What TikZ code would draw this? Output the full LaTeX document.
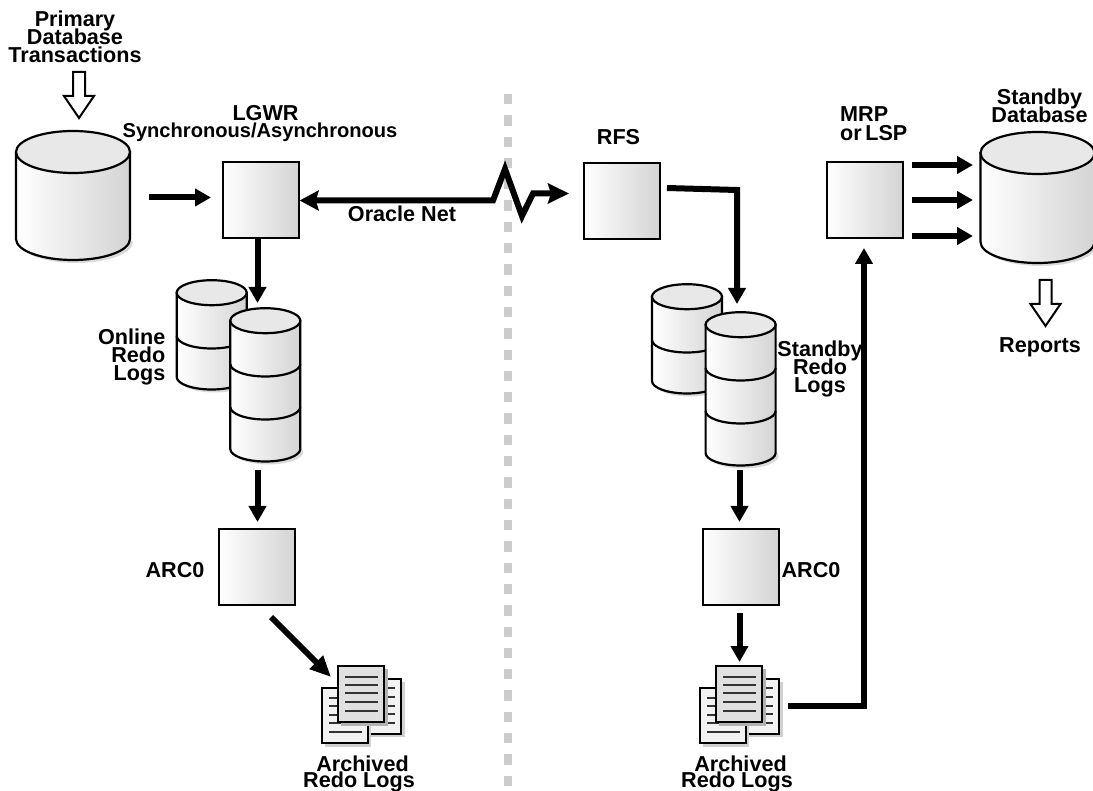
\documentclass[tikz,border=0pt]{standalone}
\usepackage{fontspec}
\setmainfont{Liberation Sans}
\usetikzlibrary{arrows.meta,calc}

\tikzset{
    procBox/.style={draw, line width=2, minimum size=76, inner sep=0, left color=white, right color=black!17},
    heavyArrow/.style={-{Triangle[length=16,width=17]}, line width=6},
    bigHeadArrow/.style={-{Triangle[length=21,width=18]}, line width=6},
    netArrow/.style={{Stealth[length=19,width=20,inset=3]}-{Stealth[length=21,width=20,inset=3]}, line width=6, miter limit=20},
    hollowArrow/.style={draw, line width=2, fill=white, miter limit=10},
    caption/.style={align=center, inner sep=0, font=\lineskiplimit-30pt\relax\fontsize{21.6}{18}\selectfont\bfseries},
    diskFace/.style={draw, line width=2.2},
    sheet/.style={draw, line width=2},
    sheetLine/.style={line width=1.2, black!80}
}

\begin{document}
\begin{tikzpicture}[x=1pt, y=-1pt]
    \useasboundingbox (0, 0) rectangle (1093, 791);

    % cylinder: x, top y, bottom y, x radius, y radius, inner levels
    \def\drawCylinder#1#2#3#4#5#6{
        \fill[black!14] (#1-#4+3, #2+3) -- (#1-#4+3, #3+3) arc[start angle=180, end angle=0, x radius=#4, y radius=#5] -- cycle;
        \path[diskFace, left color=white, right color=black!17] (#1-#4, #2) -- (#1-#4, #3) arc[start angle=180, end angle=0, x radius=#4, y radius=#5] -- (#1+#4, #2) -- cycle;
        \foreach \level in {#6}
        {
            \draw[line width=2.2] (#1-#4, \level) arc[start angle=180, end angle=0, x radius=#4, y radius=#5];
        }
        \path[diskFace, fill=black!9] (#1, #2) ellipse [x radius=#4, y radius=#5];
    }

    % outlined arrow pointing down: x, top y
    \def\drawHollow#1#2{
        \path[hollowArrow] (#1-6, #2) -- (#1+6, #2) -- (#1+6, #2+24) -- (#1+15, #2+24) -- (#1, #2+46) -- (#1-15, #2+24) -- (#1-6, #2+24) -- cycle;
    }

    % pile of three sheets: x and y of the left sheet
    \def\drawSheets#1#2{
        \begin{scope}[xshift=#1, yshift=-#2]
            \fill[black!18] (36, -6) rectangle (83, 49);
            \path[sheet, fill=black!5] (33, -9) rectangle (79, 46);
            \foreach \lineY in {0, 9, 18, 26, 35}
            {
                \draw[sheetLine] (40, \lineY) -- (73, \lineY);
            }
            \fill[black!18] (3, 3) rectangle (49, 59);
            \path[sheet, fill=black!5] (0, 0) rectangle (46, 55);
            \foreach \lineY in {10, 18, 27, 35, 44}
            {
                \draw[sheetLine] (7, \lineY) -- (40, \lineY);
            }
            \fill[black!30] (19, -19) rectangle (66, 38);
            \path[sheet, fill=black!12] (16, -22) rectangle (62, 34);
            \foreach \lineY in {-11, -3, 5, 14, 23}
            {
                \draw[sheetLine] (23, \lineY) -- (56, \lineY);
            }
        \end{scope}
    }

    % divider
    \coordinate (dividerTop) at (508, 94);
    \coordinate (dividerBottom) at (508, 788);
    \draw[line width=8, black!20, dash pattern=on 10.3 off 11] (dividerTop) -- (dividerBottom);

    % disks
    \drawCylinder{73}{152}{239}{57}{21}{}
    \drawCylinder{1037.5}{153}{242}{57}{21}{}
    \drawCylinder{211.7}{292.7}{377}{35}{12.5}{336}
    \drawCylinder{265.3}{320.7}{449}{35}{12.5}{364, 407}
    \drawCylinder{687}{296.7}{381}{35}{12.5}{340}
    \drawCylinder{740.6}{324.7}{453}{35}{12.5}{368, 411}

    \drawSheets{322}{688}
    \drawSheets{700}{688}

    \drawHollow{79}{72}
    \drawHollow{1045.5}{280}

    % processes
    \node[procBox] (lgwr) at (260.7, 200.5) {};
    \node[procBox] (rfs) at (622, 201) {};
    \node[procBox] (mrp) at (864.5, 200.5) {};
    \node[procBox] (arcPrimary) at (257, 566.5) {};
    \node[procBox] (arcStandby) at (740.5, 566.5) {};

    % free ends of the arrows
    \coordinate (primaryOut) at (149, 197.5);
    \coordinate (lgwrIn) at (211, 197.5);
    \coordinate (onlineIn) at (257.5, 303);
    \coordinate (onlineOut) at (257.5, 470);
    \coordinate (arcPrimaryIn) at (257.5, 522);
    \coordinate (arcPrimaryOut) at (271, 617);
    \coordinate (sheetsPrimaryIn) at (331, 677);
    \coordinate (netEnd) at (569, 193.5);
    \coordinate (rfsOut) at (667, 188);
    \coordinate (standbyIn) at (737, 304);
    \coordinate (standbyOut) at (739.5, 470);
    \coordinate (arcStandbyIn) at (739.5, 522);
    \coordinate (arcStandbyOut) at (739.5, 613);
    \coordinate (sheetsStandbyIn) at (739.5, 662);
    \coordinate (sheetsStandbyOut) at (788, 706);
    \coordinate (mrpIn) at (864, 248);

    % connectors
    \draw[heavyArrow] (primaryOut) -- (lgwrIn);
    \draw[heavyArrow] (lgwr.south -| onlineIn) -- (onlineIn);
    \draw[heavyArrow] (onlineOut) -- (arcPrimaryIn);
    \draw[bigHeadArrow] (arcPrimaryOut) -- (sheetsPrimaryIn);
    \draw[netArrow] (lgwr.east) -- (493, 200.5) -- (505, 169) -- (522, 216) -- (533, 193.5) -- (netEnd);
    \draw[heavyArrow] (rfsOut) -- (737, 190) -- (standbyIn);
    \draw[heavyArrow] (standbyOut) -- (arcStandbyIn);
    \draw[heavyArrow] (arcStandbyOut) -- (sheetsStandbyIn);
    \draw[heavyArrow] (sheetsStandbyOut) -- (864, 706) -- (mrpIn);
    \foreach \arrowY in {165, 200, 236}
    {
        \coordinate (mrpOut) at (912, \arrowY);
        \coordinate (standbyDbIn) at (973, \arrowY);
        \draw[heavyArrow] (mrpOut) -- (standbyDbIn);
    }

    % captions
    \node[caption] (primaryLabel) at (75, 37) {Primary\\Database\\Transactions};
    \node[caption] (lgwrLabel) at (265.5, 113) {LGWR};
    \node[caption, font=\fontsize{20.1}{18}\selectfont\bfseries] (syncLabel) at (260, 132) {Synchronous/Asynchronous};
    \node[caption] (netLabel) at (402, 214) {Oracle Net};
    \node[caption] (rfsLabel) at (618.5, 137) {RFS};
    \node[caption, align=left, anchor=west] (mrpLabel) at (840, 124) {MRP\\[1pt]or\hspace{3.5pt}LSP};
    \node[caption] (standbyLabel) at (1039.5, 106) {Standby\\[-0.5pt]Database};
    \node[caption] (reportsLabel) at (1040, 347) {Reports};
    \node[caption, align=right, anchor=east] (onlineLabel) at (165.5, 357) {Online\\Redo\\Logs};
    \node[caption] (standbyRedoLabel) at (820, 369) {Standby\\Redo\\Logs};
    \node[caption] (arcPrimaryLabel) at (175, 570) {ARC0};
    \node[caption] (arcStandbyLabel) at (811, 570) {ARC0};
    \node[caption] (sheetsPrimaryLabel) at (359, 774) {\hspace*{7pt}Archived\\[-1.5pt]Redo Logs};
    \node[caption] (sheetsStandbyLabel) at (737, 774) {\hspace*{7pt}Archived\\[-1.5pt]Redo Logs};
\end{tikzpicture}
\end{document}
